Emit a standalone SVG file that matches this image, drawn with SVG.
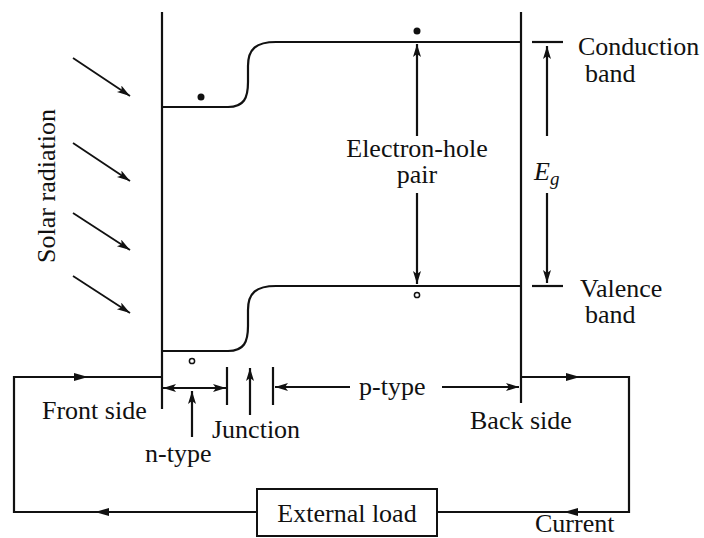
<svg xmlns="http://www.w3.org/2000/svg" width="704" height="538" viewBox="0 0 704 538">
<defs>
<marker id="ah" markerUnits="userSpaceOnUse" markerWidth="14" markerHeight="10" refX="13" refY="4" orient="auto-start-reverse">
<path d="M0,0 L13,4 L0,8 L3,4 z" fill="#111"/>
</marker>
</defs>
<style>
.ln{fill:none;stroke:#111;stroke-width:2.2}
.thin{fill:none;stroke:#111;stroke-width:1.8}
.t{font-family:"Liberation Serif","Times New Roman",serif;font-size:26px;fill:#111}
.mid{text-anchor:middle}
.tri{fill:#111}
</style>
<rect width="704" height="538" fill="#fff"/>
<g id="cell">
<line class="ln" x1="162" y1="12" x2="162" y2="409"/>
<line class="ln" x1="521" y1="12" x2="521" y2="403"/>
<path id="conduction-band" class="ln" d="M162,107 H228 C244,107 248,98 248,82 L248,66 C248,49 256,42 276,42 H521"/>
<path id="valence-band" class="ln" d="M162,351 H228 C244,351 248,342 248,326 L248,310 C248,293 256,286 276,286 H521"/>
<line class="ln" x1="532" y1="42" x2="563" y2="42"/>
<line class="ln" x1="532" y1="286" x2="563" y2="286"/>
<line class="ln" x1="227" y1="367" x2="227" y2="405"/>
<line class="ln" x1="273" y1="367" x2="273" y2="405"/>
</g>
<g id="particles">
<circle cx="201" cy="97" r="3.5" fill="#111"/>
<circle cx="417" cy="31" r="3.5" fill="#111"/>
<circle cx="417" cy="295" r="2.6" fill="none" stroke="#111" stroke-width="1.5"/>
<circle cx="192" cy="361" r="2.6" fill="none" stroke="#111" stroke-width="1.5"/>
</g>
<g id="connectors">
<line class="thin" x1="73" y1="58" x2="130" y2="96" marker-end="url(#ah)"/>
<line class="thin" x1="73" y1="143" x2="130" y2="181" marker-end="url(#ah)"/>
<line class="thin" x1="73" y1="213" x2="130" y2="250" marker-end="url(#ah)"/>
<line class="thin" x1="73" y1="276" x2="130" y2="313" marker-end="url(#ah)"/>
<line class="ln" x1="417" y1="136" x2="417" y2="44" marker-end="url(#ah)"/>
<line class="ln" x1="417" y1="193" x2="417" y2="284" marker-end="url(#ah)"/>
<line class="ln" x1="547" y1="136" x2="547" y2="46" marker-end="url(#ah)"/>
<line class="ln" x1="547" y1="193" x2="547" y2="283" marker-end="url(#ah)"/>
<line class="ln" x1="163" y1="388" x2="226" y2="388" marker-start="url(#ah)" marker-end="url(#ah)"/>
<line class="ln" x1="192" y1="437" x2="192" y2="391" marker-end="url(#ah)"/>
<line class="ln" x1="250" y1="415" x2="250" y2="368" marker-end="url(#ah)"/>
<line class="ln" x1="350" y1="387" x2="275" y2="387" marker-end="url(#ah)"/>
<line class="ln" x1="442" y1="387" x2="519" y2="387" marker-end="url(#ah)"/>
<path id="wire-left" class="ln" d="M162,377 H14 V512 H257"/>
<path id="wire-right" class="ln" d="M521,377 H629 V512 H437"/>
<polygon class="tri" points="88,377 74,373 74,381"/>
<polygon class="tri" points="95,512 109,508 109,516"/>
<polygon class="tri" points="580,377 566,373 566,381"/>
<polygon class="tri" points="564,512 578,508 578,516"/>
</g>
<g id="external-load">
<rect x="257" y="489" width="180" height="47" fill="#fff" stroke="#111" stroke-width="2"/>
<text class="t mid" x="347" y="522">External load</text>
</g>
<g id="labels">
<text class="t mid" transform="translate(55,186) rotate(-90)">Solar radiation</text>
<text class="t" x="578" y="55">Conduction</text>
<text class="t" x="585" y="82">band</text>
<text class="t" x="580" y="297">Valence</text>
<text class="t" x="585" y="323">band</text>
<text class="t mid" x="417" y="157">Electron-hole</text>
<text class="t mid" x="417" y="183">pair</text>
<text class="t" x="534" y="180"><tspan font-style="italic">E</tspan><tspan font-style="italic" font-size="19" dy="5">g</tspan></text>
<text class="t" x="42" y="419">Front side</text>
<text class="t" x="145" y="462">n-type</text>
<text class="t" x="212" y="438">Junction</text>
<text class="t" x="359" y="395">p-type</text>
<text class="t" x="470" y="429">Back side</text>
<text class="t" x="535" y="532">Current</text>
</g>
</svg>
